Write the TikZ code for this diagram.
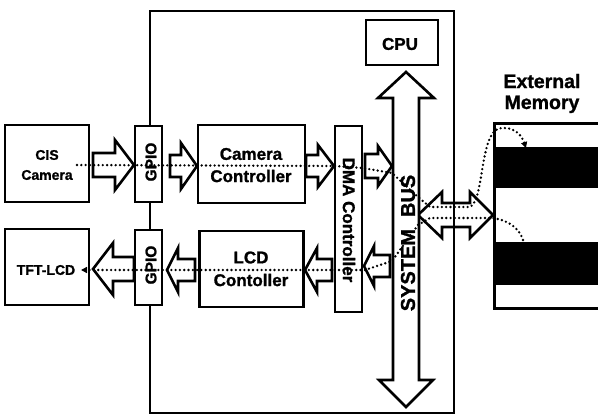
\documentclass[tikz,border=0pt]{standalone}
\usepackage{fontspec}
\setmainfont[BoldFeatures={FakeBold=1.2}]{Liberation Sans}
\usetikzlibrary{arrows.meta}
\newcommand{\blkarrow}[6]{% tail x, head base x, tip x, centre y, head half, shaft half
  \draw[barrow] (#1,#4-#6) -- (#2,#4-#6) -- (#2,#4-#5) -- (#3,#4) -- (#2,#4+#5) -- (#2,#4+#6) -- (#1,#4+#6) -- cycle;}
\newcommand{\fs}[1]{\fontsize{#1}{#1}\selectfont}
\begin{document}
\begin{tikzpicture}[x=1pt,y=-1pt,
  box/.style={draw=black, line width=2.6pt, fill=white, inner sep=0pt},
  barrow/.style={draw=black, line width=2.6pt, fill=white, line join=miter},
  dots/.style={line width=2.6pt, dash pattern=on 0pt off 4.3pt, line cap=round},
  lbl/.style={font=\bfseries, inner sep=0pt, text=black},
  tip/.style={-{Triangle[length=6pt,width=6pt]}}]
\useasboundingbox (0,0) rectangle (598,415);
\fill[white] (0,0) rectangle (598,415);

% double arrow bus <-> memory
\draw[barrow] (418,215) -- (442,192) -- (442,203) -- (470,203) -- (470,192) -- (493,215)
  -- (470,238) -- (470,227) -- (442,227) -- (442,238) -- cycle;

% chip outline
\node[draw=black, line width=2.2pt, inner sep=0pt, minimum width=304pt, minimum height=402pt] (chip) at (302,212) {};

% system bus
\draw[barrow] (406,72) -- (434,98) -- (419,98) -- (419,380) -- (433,380) -- (406,407)
  -- (379,380) -- (393,380) -- (393,98) -- (378,98) -- cycle;

% boxes
\node[box, minimum width=84pt, minimum height=77pt] (cis) at (47,163.5) {};
\node[box, minimum width=84pt, minimum height=76pt] (tft) at (47,267) {};
\node[box, minimum width=27pt, minimum height=76pt] (gpio1) at (148.5,164) {};
\node[box, minimum width=27pt, minimum height=75pt] (gpio2) at (148.5,267.5) {};
\node[box, minimum width=107pt, minimum height=78pt] (camc) at (251.5,164) {};
\node[box, minimum width=104pt, minimum height=76pt] (lcdc) at (251.5,269) {};
\node[box, minimum width=27pt, minimum height=186pt] (dma) at (348.5,219) {};
\node[box, minimum width=72pt, minimum height=45pt] (cpu) at (402,42.5) {};

% block arrows
\blkarrow{93}{115}{134}{165}{25}{12}
\blkarrow{170}{181}{197}{166}{23}{11}
\blkarrow{306}{318}{334}{166}{21}{11}
\blkarrow{365}{378}{392}{166}{20}{12}
\blkarrow{390}{374}{364}{266}{20}{11}
\blkarrow{332}{317}{305}{270}{22}{11}
\blkarrow{195}{178}{167}{270}{22}{11}
\blkarrow{134}{113}{93}{269}{26}{12}

% external memory
\node[box, anchor=north west, minimum width=130pt, minimum height=185pt] (mem) at (493,122) {};
\fill[black] (494,147) rectangle (610,188);
\fill[black] (494,242) rectangle (610,285);

% dotted data paths
\coordinate (s1) at (77,165);
\coordinate (e1) at (526,148);
\coordinate (s2) at (523,240);
\coordinate (e2) at (81,270);
\draw[dots, tip] (s1) -- (335,166) -- (363,168) -- (392,173) -- (418,197) -- (430,207) -- (470,207)
  .. controls (485,200) and (479,128) .. (502,128) .. controls (515,127) and (522,136) .. (e1);
\draw[dots, tip] (s2) .. controls (520,230) and (510,220) .. (492,218) -- (430,218) -- (418,225)
  -- (392,261) -- (365,270) -- (e2);

% labels
\node[lbl, font=\bfseries\fs{14}] (t1) at (47,155) {CIS};
\node[lbl, font=\bfseries\fs{14}] (t2) at (47,175) {Camera};
\node[lbl, font=\bfseries\fs{14}] (t3) at (46,270) {TFT-LCD};
\node[lbl, font=\bfseries\fs{15.5}, rotate=90] (t4) at (151,162) {GPIO};
\node[lbl, font=\bfseries\fs{15.5}, rotate=90] (t5) at (151,265) {GPIO};
\node[lbl, font=\bfseries\fs{17}] (t6) at (251,154) {Camera};
\node[lbl, font=\bfseries\fs{17}] (t7) at (251,176) {Controller};
\node[lbl, font=\bfseries\fs{17}] (t8) at (251,257.5) {LCD};
\node[lbl, font=\bfseries\fs{17}] (t9) at (251,280) {Contoller};
\node[lbl, font=\bfseries\fs{17}, rotate=-90] (t10) at (349,220) {DMA Controller};
\node[lbl, font=\bfseries\fs{17}] (t11) at (400,44) {CPU};
\node[lbl, font=\bfseries\fs{20}, rotate=90] (t12) at (408,243) {SYSTEM\hspace{0.6em}BUS};
\node[lbl, font=\bfseries\fs{19.5}, anchor=base] (t13) at (542,88) {External};
\node[lbl, font=\bfseries\fs{19.5}, anchor=base] (t14) at (542,109) {Memory};
\end{tikzpicture}
\end{document}
